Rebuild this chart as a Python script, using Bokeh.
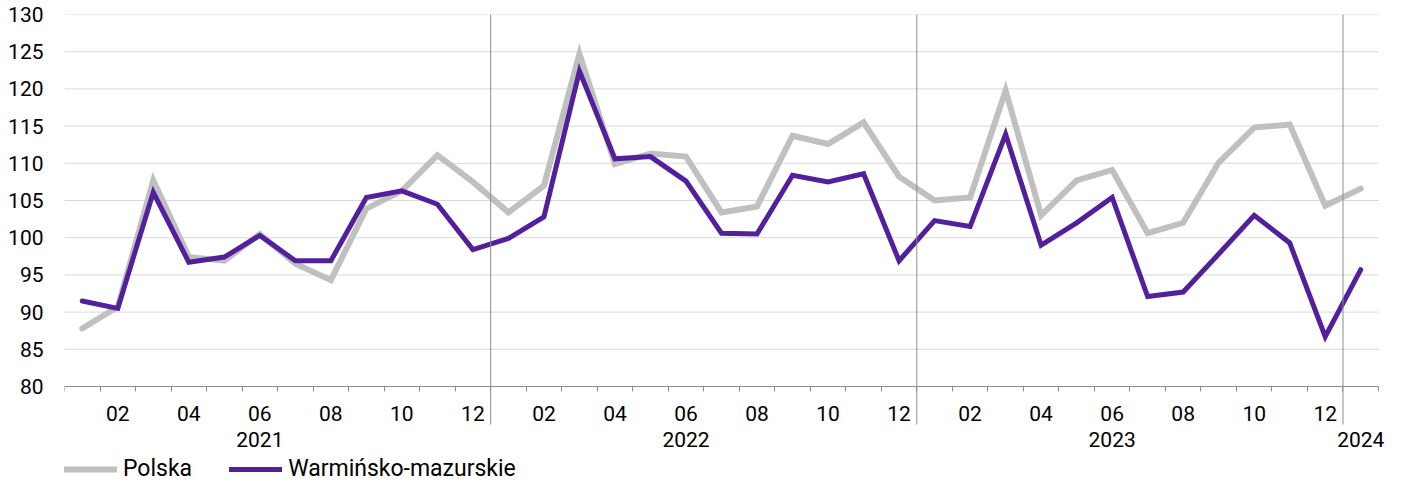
from bokeh.plotting import figure
from bokeh.models import Range1d, FixedTicker, LinearAxis, Legend, LegendItem, Arrow
from bokeh.embed import file_html
from bokeh.resources import INLINE

# Jan 2021 .. Jan 2024 (37 months)
month_codes = ["01", "02", "03", "04", "05", "06", "07", "08", "09", "10", "11", "12"] * 3 + ["01"]
polska = [87.8, 90.7, 107.7, 97.4, 96.9, 100.5, 96.5, 94.3, 103.9, 106.3, 111.1, 107.5,
          103.4, 107.0, 124.7, 109.9, 111.3, 110.9, 103.4, 104.2, 113.7, 112.6, 115.5, 108.2,
          105.0, 105.4, 119.8, 103.0, 107.7, 109.1, 100.6, 102.0, 110.1, 114.8, 115.2, 104.3,
          106.6]
warminsko = [91.5, 90.5, 106.1, 96.7, 97.4, 100.3, 96.9, 96.9, 105.4, 106.3, 104.5, 98.4,
             99.9, 102.8, 122.4, 110.6, 110.9, 107.6, 100.6, 100.5, 108.4, 107.5, 108.6, 96.9,
             102.3, 101.5, 113.9, 99.0, 102.0, 105.4, 92.1, 92.7, 97.8, 103.0, 99.3, 86.7,
             95.7]
years = ["2021", "2022", "2023", "2024"]
year_label_idx = [5, 17, 29, 36]
y_ticks = [80, 85, 90, 95, 100, 105, 110, 115, 120, 125, 130]

x = list(range(len(polska)))
FONT = "Roboto"
FS = "21px"
AXIS_COL = "#8c8c8c"

W, H = 1386, 483
TOP, LEFT = 14, 64
CAT_W = 1314             # pixel width of the category band
PLOT_H = 372             # pixel height of the 80..130 value band
BELOW = H - TOP - PLOT_H  # room under the value band for labels and legend
RIGHT_PAD = W - LEFT - CAT_W  # room right of the last category for the last year label
y_lo, y_hi = y_ticks[0], y_ticks[-1]
px_per_unit = PLOT_H / (y_hi - y_lo)
y_start = y_lo - BELOW / px_per_unit
x_lo, x_hi = -0.5, len(x) - 0.5
px_per_cat = CAT_W / (x_hi - x_lo)
x_end = x_hi + RIGHT_PAD / px_per_cat

p = figure(width=W, height=H, title=None, toolbar_location=None,
           output_backend="svg",
           x_range=Range1d(x_lo, x_end), y_range=Range1d(y_start, y_hi),
           min_border_left=LEFT, min_border_right=0, min_border_top=TOP, min_border_bottom=0)
p.outline_line_color = None
p.xgrid.visible = False
p.ygrid.visible = False

# horizontal gridlines over the category band only
p.segment(x0=[x_lo] * len(y_ticks), y0=y_ticks, x1=[x_hi] * len(y_ticks), y1=y_ticks,
          line_color="#d9d9d9", line_width=1)

# y axis
p.yaxis.ticker = FixedTicker(ticks=y_ticks)
p.yaxis.axis_line_alpha = 0
p.yaxis.major_tick_line_alpha = 0
p.yaxis.minor_tick_line_alpha = 0
p.yaxis.major_tick_out = 0
p.yaxis.major_label_standoff = 21
p.yaxis.major_label_text_font = FONT
p.yaxis.major_label_text_font_size = FS
p.yaxis.major_label_text_color = "#000000"

# month axis, fixed at the bottom of the value band
lab_idx = [i for i, m in enumerate(month_codes) if int(m) % 2 == 0]
xa = p.xaxis[0]
xa.fixed_location = y_lo
xa.bounds = (x_lo, x_hi)
xa.ticker = FixedTicker(ticks=lab_idx, minor_ticks=[i - 0.5 for i in range(len(x) + 1)])
xa.major_label_overrides = {i: month_codes[i] for i in lab_idx}
xa.major_tick_out = 0
xa.major_tick_in = 0
xa.major_tick_line_alpha = 0
xa.minor_tick_out = 5
xa.minor_tick_in = 0
xa.minor_tick_line_color = AXIS_COL
xa.axis_line_color = AXIS_COL
xa.major_label_standoff = 14
xa.major_label_text_font = FONT
xa.major_label_text_font_size = FS
xa.major_label_text_color = "#000000"

# year axis
ya = LinearAxis(ticker=FixedTicker(ticks=year_label_idx), fixed_location=y_lo,
                major_label_overrides={i: y for i, y in zip(year_label_idx, years)})
ya.axis_line_alpha = 0
ya.major_tick_line_alpha = 0
ya.minor_tick_line_alpha = 0
ya.major_tick_out = 0
ya.major_label_standoff = 45
ya.major_label_text_font = FONT
ya.major_label_text_font_size = FS
ya.major_label_text_color = "#000000"
p.add_layout(ya, "below")

# year separators
sep_len = 38 / px_per_unit
for k in range(1, len(years)):
    s = 12 * k - 0.5
    p.add_layout(Arrow(end=None, x_start=s, y_start=y_hi, x_end=s, y_end=y_lo - sep_len,
                       line_color=AXIS_COL, line_width=1))

r1 = p.line(x, polska, line_color="#c0c0c0", line_width=6, line_join="miter", line_cap="round")
r2 = p.line(x, warminsko, line_color="#51209a", line_width=5, line_join="miter", line_cap="round")

legend = Legend(items=[LegendItem(label="Polska", renderers=[r1]),
                       LegendItem(label="Warmińsko-mazurskie", renderers=[r2])],
                orientation="horizontal", location=(0, 1),
                glyph_width=53, glyph_height=20, label_standoff=6, spacing=37,
                padding=0, margin=0, border_line_alpha=0, background_fill_alpha=0,
                label_text_font=FONT, label_text_font_size="23px", label_text_color="#000000")
p.add_layout(legend, "center")

open("out.html", "w").write(file_html(p, INLINE))
